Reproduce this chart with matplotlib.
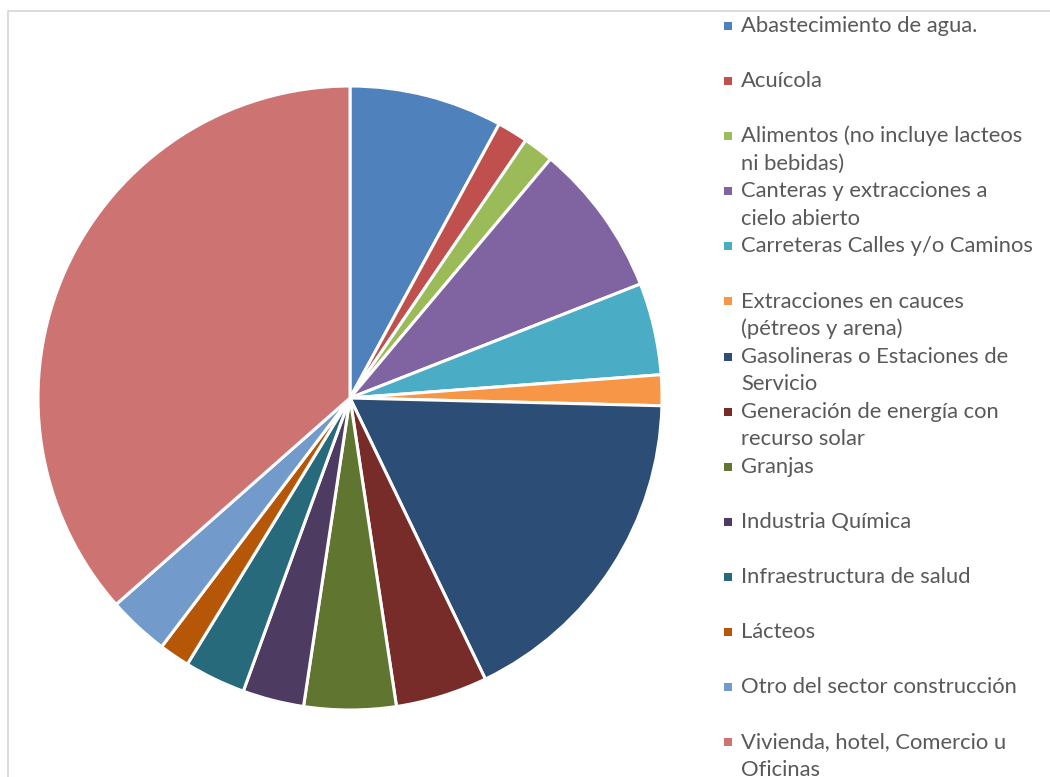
import matplotlib
matplotlib.use("Agg")
import matplotlib.pyplot as plt
from matplotlib.patches import Rectangle

categories = [
    "Abastecimiento de agua.",
    "Acuícola",
    "Alimentos (no incluye lacteos\nni bebidas)",
    "Canteras y extracciones a\ncielo abierto",
    "Carreteras Calles y/o Caminos",
    "Extracciones en cauces\n(pétreos y arena)",
    "Gasolineras o Estaciones de\nServicio",
    "Generación de energía con\nrecurso solar",
    "Granjas",
    "Industria Química",
    "Infraestructura de salud",
    "Lácteos",
    "Otro del sector construcción",
    "Vivienda, hotel, Comercio u\nOficinas",
]
values = [5, 1, 1, 5, 3, 1, 11, 3, 3, 2, 2, 1, 2, 23]
colors = ["#4F81BD", "#C0504D", "#9BBB59", "#8064A2", "#4BACC6", "#F79646",
          "#2C4D75", "#772C2A", "#5F7530", "#4D3B62", "#276A7C", "#B65708",
          "#729ACA", "#CD7371"]

W, H = 1050, 777
fig = plt.figure(figsize=(W / 100, H / 100), dpi=100)

# chart border (extends beyond the right and bottom edge)
fig.patches.append(Rectangle((8 / W, -0.1), 1.2, (H - 11) / H + 0.1,
                             transform=fig.transFigure, fill=False,
                             edgecolor="#D9D9D9", linewidth=1.3))

cx, cy, r = 350, 398, 312
ax = fig.add_axes([(cx - r) / W, (H - cy - r) / H, 2 * r / W, 2 * r / H])
ax.pie(values, colors=colors, startangle=90, counterclock=False,
       wedgeprops=dict(edgecolor="white", linewidth=2.2))
ax.set_xlim(-1, 1)
ax.set_ylim(-1, 1)

# legend
text_color = "#595959"
x_marker, x_text = 724, 741
y0, slot, line = 26, 55.1, 27.5
for i, (lab, col) in enumerate(zip(categories, colors)):
    y = y0 + i * slot
    fig.patches.append(Rectangle((x_marker / W, 1 - (y + 4) / H), 8 / W, 8 / H,
                                 transform=fig.transFigure, facecolor=col,
                                 edgecolor="none"))
    for j, ln in enumerate(lab.split("\n")):
        fig.text(x_text / W, 1 - (y + j * line) / H, ln, color=text_color,
                 fontsize=15.8, family="Lato", va="center", ha="left")

fig.savefig("out.png", dpi=100)
